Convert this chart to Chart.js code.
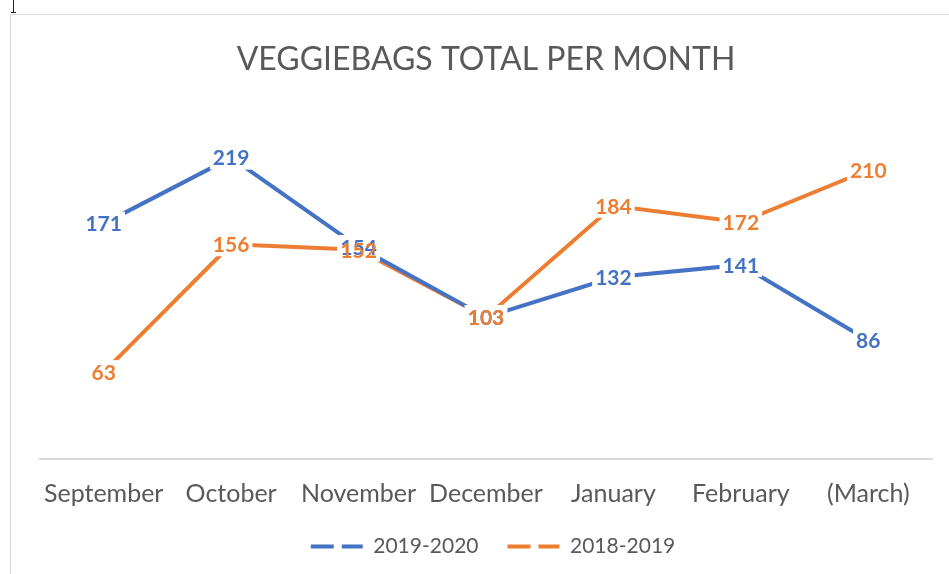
<!DOCTYPE html>
<html><head><meta charset="utf-8">
<script src="https://cdn.jsdelivr.net/npm/chart.js@4"></script>
<style>html,body{margin:0;padding:0;background:#fff;}#wrap{width:949px;height:574px;position:relative;}</style>
</head><body><div id="wrap"><canvas id="c" width="949" height="574"></canvas></div>
<script>
const categories = ['September','October','November','December','January','February','(March)'];
const series2019_2020 = [171, 219, 154, 103, 132, 141, 86];
const series2018_2019 = [63, 156, 152, 103, 184, 172, 210];
const seriesNames = ['2019-2020', '2018-2019'];
const yMin = 0, yMax = 250;
const titleText = 'VEGGIEBAGS TOTAL PER MONTH';

const BLUE = '#4472C4', ORANGE = '#ED7D31', GREY = '#595959';

const framePlugin = {
  id: 'frame',
  beforeDraw(chart) {
    const ctx = chart.ctx;
    ctx.save();
    ctx.fillStyle = '#fff';
    ctx.fillRect(0, 0, chart.width, chart.height);
    ctx.strokeStyle = '#d9d9d9';
    ctx.lineWidth = 1;
    ctx.beginPath();
    ctx.moveTo(10.5, chart.height); ctx.lineTo(10.5, 14.5); ctx.lineTo(chart.width, 14.5);
    ctx.stroke();
    ctx.strokeStyle = '#222';
    ctx.beginPath();
    ctx.moveTo(13.5, 0); ctx.lineTo(13.5, 12);
    ctx.moveTo(11, 12.5); ctx.lineTo(16, 12.5);
    ctx.stroke();
    ctx.restore();
  }
};

const legendShift = {
  id: 'legendShift',
  afterLayout(chart) {
    if (chart.legend) { chart.legend.left += 7; chart.legend.right += 7; }
  }
};

const labelPlugin = {
  id: 'dl',
  afterDatasetsDraw(chart) {
    const ctx = chart.ctx;
    ctx.save();
    ctx.font = 'bold 21px Lato';
    const items = [];
    chart.data.datasets.forEach((ds, i) => {
      const meta = chart.getDatasetMeta(i);
      meta.data.forEach((pt, j) => {
        items.push({x: pt.x, y: pt.y, t: String(ds.data[j]), c: ds.borderColor});
      });
    });
    ctx.fillStyle = '#fff';
    items.forEach(it => {
      const w = ctx.measureText(it.t).width;
      ctx.fillRect(it.x - w / 2 - 3, it.y - 12, w + 6, 24);
    });
    ctx.textAlign = 'center';
    ctx.textBaseline = 'middle';
    items.forEach(it => { ctx.fillStyle = it.c; ctx.fillText(it.t, it.x, it.y + 1); });
    ctx.restore();
  }
};

new Chart(document.getElementById('c'), {
  type: 'line',
  data: {
    labels: categories,
    datasets: [
      {label: seriesNames[0], data: series2019_2020, borderColor: BLUE, backgroundColor: BLUE, borderWidth: 4, pointRadius: 0, tension: 0, borderCapStyle: 'round'},
      {label: seriesNames[1], data: series2018_2019, borderColor: ORANGE, backgroundColor: ORANGE, borderWidth: 4, pointRadius: 0, tension: 0, borderCapStyle: 'round'}
    ]
  },
  options: {
    responsive: false,
    devicePixelRatio: 1,
    animation: false,
    layout: {padding: {left: 40, right: 17, top: 0, bottom: 7}},
    plugins: {
      title: {display: true, text: titleText, color: GREY, font: {family: 'Lato', size: 32, weight: 'normal'}, padding: {top: 40.8, bottom: 35.8}},
      legend: {
        position: 'bottom',
        labels: {
          usePointStyle: true, pointStyle: 'line', pointStyleWidth: 52, boxHeight: 21,
          font: {family: 'Lato', size: 21}, color: GREY, padding: 29,
          generateLabels(chart) {
            return chart.data.datasets.map((ds, i) => ({
              text: ds.label, strokeStyle: ds.borderColor, fillStyle: ds.borderColor,
              lineWidth: 4, lineDash: [23, 8], pointStyle: 'line', hidden: false,
              datasetIndex: i, fontColor: GREY
            }));
          }
        }
      },
      tooltip: {enabled: false}
    },
    scales: {
      x: {
        offset: true,
        grid: {display: false, drawTicks: false},
        border: {display: true, color: '#d9d9d9', width: 2},
        ticks: {color: GREY, font: {family: 'Lato', size: 25}, padding: 20.6, maxRotation: 0, autoSkip: false},
        afterFit(scale) { scale.height -= 23; }
      },
      y: {display: false, min: yMin, max: yMax}
    }
  },
  plugins: [framePlugin, legendShift, labelPlugin]
});
</script></body></html>
